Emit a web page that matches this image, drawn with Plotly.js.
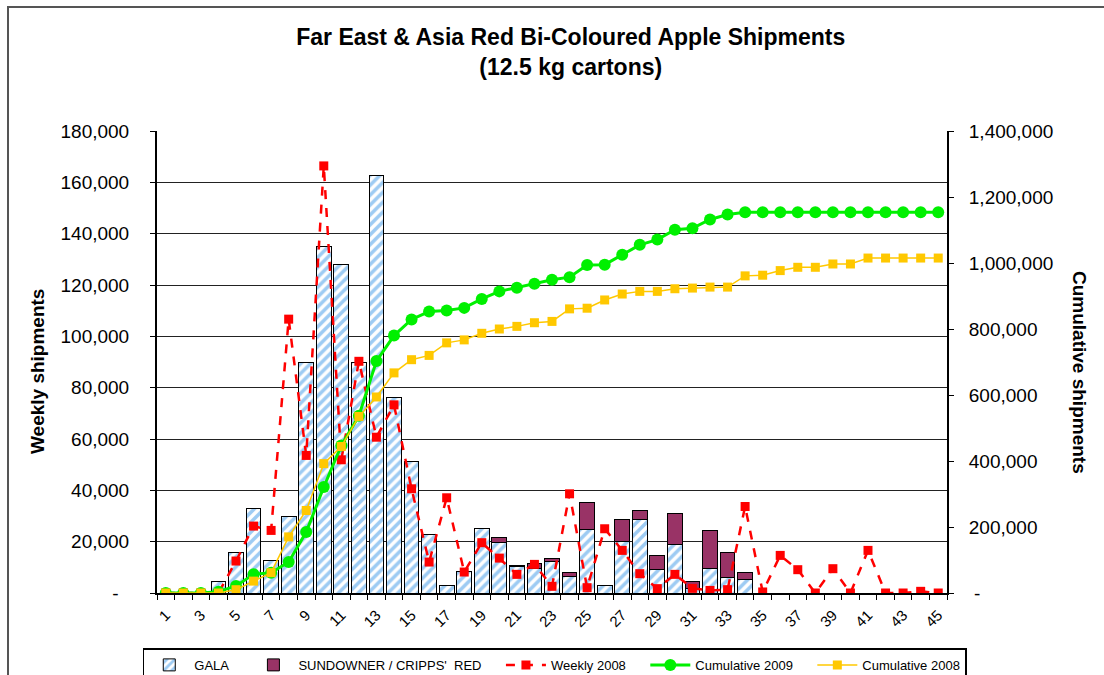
<!DOCTYPE html>
<html>
<head>
<meta charset="utf-8">
<script src="https://cdn.plot.ly/plotly-3.0.1.min.js"></script>
<style>
  html, body { margin: 0; padding: 0; background: #ffffff; overflow: hidden; }
  #chart { width: 1104px; height: 675px; }
  #frame { position: absolute; left: 7px; top: 6px; width: 1300px; height: 900px;
           border-left: 2px solid #555; border-top: 2px solid #555; pointer-events: none; }
</style>
</head>
<body>
<div id="chart"></div>
<div id="frame"></div>
<script>
// ---- data ----
const weeks = [1,2,3,4,5,6,7,8,9,10,11,12,13,14,15,16,17,18,19,20,21,22,23,24,25,26,27,28,29,30,31,32,33,34,35,36,37,38,39,40,41,42,43,44,45];

const gala = [0,0,0,4300,15700,32800,12700,30000,89900,135000,
              128000,89900,162800,76100,51400,22800,2850,8560,25300,19800,
              10300,9700,12450,6500,24650,2850,20200,28500,9300,18900,
              1800,9500,6000,5200,0,0,0,0,0,0,
              0,0,0,0,0];

const sundowner = [0,0,0,0,0,0,0,0,0,0,
                   0,0,0,0,0,0,0,0,0,1700,
                   500,1700,800,1400,10500,0,8450,3500,5500,12000,
                   2500,14900,9700,2750,0,0,0,0,0,0,
                   0,0,0,0,0];

const weekly2008 = [0,0,0,0,12450,26070,24380,106700,53600,166400,
                    51900,90270,60700,73300,40600,12060,37100,8170,19600,13600,
                    7260,11150,2600,38650,2070,25030,16600,7520,1700,7260,
                    1800,1000,1300,33700,400,14650,9080,0,9470,0,
                    16600,0,0,650,0];

const cum2009 = [0,0,0,4000,21200,56500,61600,93900,184700,321000,
                 447000,537000,702700,780000,829000,853000,856000,864000,891000,914000,
                 925000,937000,949000,957000,994000,995000,1025000,1055000,1071000,1101000,
                 1105000,1132000,1147000,1154000,1154000,1154000,1154000,1154000,1154000,1154000,
                 1154000,1154000,1154000,1154000,1154000];

const cum2008 = [0,0,0,0,10000,36000,61600,170000,250000,392000,
                 444000,535000,594000,667000,707000,720000,758000,767000,787000,800000,
                 808000,819000,823000,861000,863000,888000,906000,914000,914000,922000,
                 924000,927000,927000,961000,963000,977000,987000,987000,997000,997000,
                 1015000,1015000,1015000,1015000,1015000];

const xTickVals = [1,3,5,7,9,11,13,15,17,19,21,23,25,27,29,31,33,35,37,39,41,43,45];
const xTickText = ['1','3','5','7','9','11','13','15','17','19','21','23','25','27','29','31','33','35','37','39','41','43','45'];
const yTickVals = [0,20000,40000,60000,80000,100000,120000,140000,160000,180000];
const yTickText = ['-\u00a0\u00a0','20,000','40,000','60,000','80,000','100,000','120,000','140,000','160,000','180,000'];
const y2TickVals = [0,200000,400000,600000,800000,1000000,1200000,1400000];
const y2TickText = ['\u00a0-','200,000','400,000','600,000','800,000','1,000,000','1,200,000','1,400,000'];

const FONT = 'Liberation Sans, Arial, sans-serif';
const PAD = '\u00a0\u00a0\u00a0\u00a0';

const traces = [
  {
    type: 'bar', name: 'GALA' + PAD, x: weeks, y: gala, legendrank: 1,
    marker: {
      color: '#ffffff',
      line: { color: '#000000', width: 1 },
      pattern: { shape: '/', fgcolor: '#9dcbf3', bgcolor: '#ffffff', size: 7, solidity: 0.5, fillmode: 'replace' }
    }
  },
  {
    type: 'bar', name: "SUNDOWNER / CRIPPS'  RED" + PAD, x: weeks, y: sundowner, legendrank: 2,
    marker: { color: '#993366', line: { color: '#000000', width: 1 } }
  },
  {
    type: 'scatter', mode: 'lines+markers', name: 'Weekly 2008' + PAD, x: weeks, y: weekly2008, legendrank: 3,
    line: { color: '#ff0000', width: 2.5, dash: 'dash' },
    marker: { symbol: 'square', size: 9, color: '#ff0000' }
  },
  {
    type: 'scatter', mode: 'lines+markers', name: 'Cumulative 2009' + PAD, x: weeks, y: cum2009, yaxis: 'y2', legendrank: 4,
    line: { color: '#00f000', width: 3 },
    marker: { symbol: 'circle', size: 12, color: '#00f000' }
  },
  {
    type: 'scatter', mode: 'lines+markers', name: 'Cumulative 2008', x: weeks, y: cum2008, yaxis: 'y2', legendrank: 5,
    line: { color: '#ffc800', width: 1.5 },
    marker: { symbol: 'square', size: 9, color: '#ffc800' }
  }
];

const layout = {
  width: 1104, height: 675,
  paper_bgcolor: '#ffffff', plot_bgcolor: '#ffffff',
  font: { family: FONT, color: '#000000' },
  margin: { l: 157, r: 157, t: 131, b: 82, pad: 0, autoexpand: false },
  barmode: 'stack', bargap: 0.16,
  showlegend: true,
  title: {
    text: '<b>Far East & Asia Red Bi-Coloured Apple Shipments<br>(12.5 kg cartons)</b>',
    font: { family: FONT, size: 23, color: '#000000' },
    x: 0.517, xanchor: 'center', xref: 'container',
    y: 0.933, yanchor: 'middle', yref: 'container'
  },
  xaxis: {
    type: 'linear', range: [0.5, 45.5], fixedrange: true, automargin: false,
    tickvals: xTickVals, ticktext: xTickText, tickangle: -45,
    tickfont: { family: FONT, size: 15 },
    ticks: 'outside', ticklen: 0, tickwidth: 0, ticklabelstandoff: 6,
    minor: { tick0: 0.5, dtick: 1, ticks: 'outside', ticklen: 5, tickcolor: '#000000', tickwidth: 1, showgrid: false },
    showline: true, linecolor: '#000000', linewidth: 1.5,
    showgrid: false, zeroline: false
  },
  yaxis: {
    range: [0, 180000], fixedrange: true, automargin: false,
    tickvals: yTickVals, ticktext: yTickText,
    tickfont: { family: FONT, size: 19 },
    ticks: 'outside', ticklen: 5, tickcolor: '#000000', ticklabelstandoff: 17,
    showline: true, linecolor: '#000000', linewidth: 2,
    showgrid: true, gridcolor: '#222222', gridwidth: 1, zeroline: false
  },
  yaxis2: {
    range: [0, 1400000], overlaying: 'y', side: 'right', fixedrange: true, automargin: false,
    tickvals: y2TickVals, ticktext: y2TickText,
    tickfont: { family: FONT, size: 19 },
    ticks: 'outside', ticklen: 5, tickcolor: '#000000', ticklabelstandoff: 11,
    showline: true, linecolor: '#000000', linewidth: 2,
    showgrid: false, zeroline: false
  },
  legend: {
    orientation: 'h', x: -0.018, xanchor: 'left', y: -0.12, yanchor: 'top',
    bgcolor: '#ffffff', bordercolor: '#000000', borderwidth: 1.5,
    itemwidth: 40,
    font: { family: FONT, size: 13 }, traceorder: 'normal'
  },
  annotations: [
    {
      text: '<b>Weekly shipments</b>', xref: 'paper', yref: 'paper',
      x: (37 - 157) / 790, y: (593 - 372) / 462, xanchor: 'center', yanchor: 'middle',
      textangle: -90, showarrow: false, font: { family: FONT, size: 19 }
    },
    {
      text: '<b>Cumulative shipments</b>', xref: 'paper', yref: 'paper',
      x: (1080 - 157) / 790, y: (593 - 372) / 462, xanchor: 'center', yanchor: 'middle',
      textangle: 90, showarrow: false, font: { family: FONT, size: 19 }
    }
  ]
};

Plotly.newPlot('chart', traces, layout, { displayModeBar: false, staticPlot: true });
</script>
</body>
</html>
